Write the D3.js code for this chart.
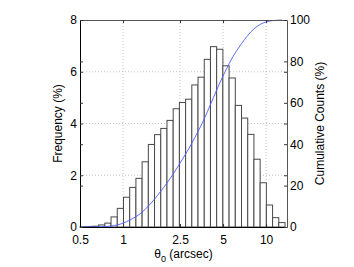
<!DOCTYPE html>
<html>
<head>
<meta charset="utf-8">
<script src="https://cdn.jsdelivr.net/npm/d3@7"></script>
<style>
    html, body { margin: 0; padding: 0; background: #fff; }
    #chart { width: 354px; height: 267px; }
    text { font-family: "Liberation Sans", Arial, Helvetica, sans-serif; fill: #000; }
</style>
</head>
<body>
<div id="chart"></div>
<script>
// histogram bin edges (arcsec, log spaced) and bar heights (%)
const binEdges = [0.500, 0.553, 0.611, 0.675, 0.746, 0.824, 0.911, 1.007, 1.113, 1.230,
                  1.359, 1.502, 1.660, 1.835, 2.028, 2.241, 2.477, 2.737, 3.025, 3.343,
                  3.695, 4.083, 4.512, 4.987, 5.512, 6.091, 6.732, 7.440, 8.222, 9.087,
                  10.043, 11.099, 12.266, 13.556];
const frequency = [0.01, 0.02, 0.03, 0.08, 0.15, 0.39, 0.72, 1.15, 1.53, 1.88,
                   2.52, 3.19, 3.57, 3.81, 4.12, 4.57, 4.81, 4.94, 5.49, 5.79,
                   6.48, 6.97, 6.87, 6.23, 5.76, 4.70, 4.21, 3.58, 2.62, 1.71,
                   0.85, 0.36, 0.17];

// cumulative curve (blue line), one point per bin centre
const cumTheta = [0.526, 0.581, 0.642, 0.710, 0.784, 0.867, 0.958, 1.058, 1.170, 1.293,
                  1.429, 1.579, 1.745, 1.929, 2.131, 2.356, 2.604, 2.877, 3.180, 3.515,
                  3.884, 4.293, 4.744, 5.243, 5.794, 6.404, 7.077, 7.821, 8.644, 9.553,
                  10.558, 11.668, 12.895];
const cumPct   = [0.01, 0.03, 0.06, 0.14, 0.29, 0.68, 1.41, 2.57, 4.11, 6.0,
                  8.54, 11.75, 15.35, 19.19, 23.34, 27.94, 32.79, 37.76, 43.29, 49.12,
                  55.65, 62.67, 69.59, 75.87, 81.67, 86.4, 90.64, 94.25, 96.89, 98.61,
                  99.47, 99.83, 100];

// ticks
const xTicks = [0.5, 1, 2.5, 5, 10];
const xTickLabels = ["0.5", "1", "2.5", "5", "10"];
const yLeftTicks = [0, 2, 4, 6, 8];
const yRightTicks = [0, 20, 40, 60, 80, 100];

const Width = 354, Height = 267;
const margin = { Top: 20, Right: 67, Bottom: 40, Left: 80 };
const plotR = Width - margin.Right, plotB = Height - margin.Bottom;

const svg = d3.select("#chart")
    .append("svg")
        .attr("width", Width)
        .attr("height", Height);

// scales
const xScale = d3.scaleLog().domain([0.5, 14]).range([margin.Left, plotR]);
const yLeft = d3.scaleLinear().domain([0, 8]).range([plotB, margin.Top]);
const yRight = d3.scaleLinear().domain([0, 100]).range([plotB, margin.Top]);

// dotted grid
const grid = svg.append("g")
    .attr("stroke", "#b4b4b4")
    .attr("stroke-width", 0.8)
    .attr("stroke-dasharray", "1,2");
grid.selectAll("line.gx")
    .data(xTicks.slice(1))
    .join("line")
        .attr("x1", d => xScale(d)).attr("x2", d => xScale(d))
        .attr("y1", margin.Top).attr("y2", plotB);
grid.selectAll("line.gy")
    .data(yLeftTicks.slice(1, -1))
    .join("line")
        .attr("x1", margin.Left).attr("x2", plotR)
        .attr("y1", d => yLeft(d)).attr("y2", d => yLeft(d));

// bars
svg.append("g")
    .attr("fill", "#fff")
    .attr("stroke", "#484848")
    .attr("stroke-width", 1)
    .selectAll("rect")
    .data(frequency)
    .join("rect")
        .attr("x", (d, i) => xScale(binEdges[i]))
        .attr("width", (d, i) => xScale(binEdges[i + 1]) - xScale(binEdges[i]))
        .attr("y", d => yLeft(d))
        .attr("height", d => plotB - yLeft(d));

// cumulative line
const line = d3.line()
    .x(d => xScale(d[0]))
    .y(d => yRight(d[1]))
    .curve(d3.curveMonotoneX);
svg.append("path")
    .datum(cumTheta.map((t, i) => [t, cumPct[i]]))
    .attr("fill", "none")
    .attr("stroke", "#4a5cff")
    .attr("stroke-width", 0.9)
    .attr("d", line);

// axes (ticks inward, both scales mirrored on both sides)
const tickLen = 3;
svg.append("g")
    .attr("transform", `translate(0, ${plotB})`)
    .call(d3.axisBottom(xScale).tickValues(xTicks).tickFormat((d, i) => xTickLabels[i])
        .tickSizeInner(-tickLen).tickSizeOuter(0).tickPadding(8))
    .call(g => g.select(".domain").attr("stroke", "#000"))
    .call(g => g.selectAll("text").attr("font-size", 12));
svg.append("g")
    .attr("transform", `translate(0, ${margin.Top})`)
    .call(d3.axisTop(xScale).tickValues(xTicks).tickFormat("")
        .tickSizeInner(-tickLen).tickSizeOuter(0))
    .call(g => g.select(".domain").attr("stroke", "#555"));

svg.append("g")
    .attr("transform", `translate(${margin.Left}, 0)`)
    .call(d3.axisLeft(yLeft).tickValues(yLeftTicks)
        .tickSizeInner(-tickLen).tickSizeOuter(0).tickPadding(3))
    .call(g => g.select(".domain").attr("stroke", "#000"))
    .call(g => g.selectAll("text").attr("font-size", 12));
svg.append("g")
    .attr("transform", `translate(${margin.Left}, 0)`)
    .call(d3.axisLeft(yRight).tickValues(yRightTicks).tickFormat("")
        .tickSizeInner(-tickLen).tickSizeOuter(0))
    .call(g => g.select(".domain").remove());

svg.append("g")
    .attr("transform", `translate(${plotR}, 0)`)
    .call(d3.axisRight(yRight).tickValues(yRightTicks)
        .tickSizeInner(-tickLen).tickSizeOuter(0).tickPadding(3))
    .call(g => g.select(".domain").attr("stroke", "#555"))
    .call(g => g.selectAll("text").attr("font-size", 12));
svg.append("g")
    .attr("transform", `translate(${plotR}, 0)`)
    .call(d3.axisRight(yLeft).tickValues(yLeftTicks).tickFormat("")
        .tickSizeInner(-tickLen).tickSizeOuter(0))
    .call(g => g.select(".domain").remove());

svg.selectAll(".tick line").attr("stroke", "#333");

// axis titles
svg.append("text")
    .attr("transform", `translate(62, ${(margin.Top + plotB) / 2}) rotate(-90)`)
    .attr("text-anchor", "middle")
    .attr("font-size", 12)
    .text("Frequency (%)");
svg.append("text")
    .attr("transform", `translate(324, ${(margin.Top + plotB) / 2}) rotate(-90)`)
    .attr("text-anchor", "middle")
    .attr("font-size", 12)
    .text("Cumulative Counts (%)");

const xTitle = svg.append("text")
    .attr("x", (margin.Left + plotR) / 2)
    .attr("y", 258)
    .attr("text-anchor", "middle")
    .attr("font-size", 12);
xTitle.append("tspan").text("\u03b8");
xTitle.append("tspan").attr("font-size", 9).attr("dy", 4).text("0");
xTitle.append("tspan").attr("dy", -4).text(" (arcsec)");
</script>
</body>
</html>
